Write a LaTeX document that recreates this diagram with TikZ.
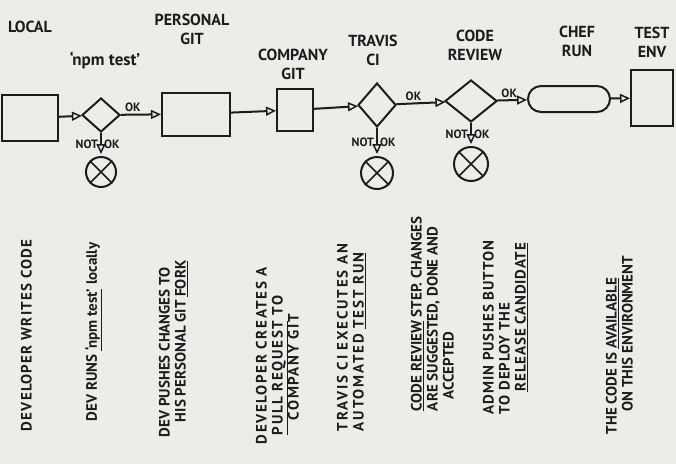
\documentclass[tikz,border=0pt]{standalone}
\usepackage{fontspec}
\setmainfont{PT Sans}
\usepackage{tikz}
\usetikzlibrary{arrows.meta,positioning,shapes.geometric,shapes.misc}
\definecolor{board}{RGB}{236,236,233}
\definecolor{marker}{RGB}{28,28,28}
\tikzstyle{box}=[draw, inner sep=0pt]
\tikzstyle{check}=[draw, diamond, inner sep=0pt]
\tikzstyle{run}=[draw, rounded rectangle, inner sep=0pt]
\tikzstyle{stop}=[draw, circle, inner sep=0pt, minimum size=30pt]
\tikzstyle{title}=[align=center, inner sep=0pt, font=\bfseries\fontsize{16}{19}\selectfont]
\tikzstyle{tag}=[inner sep=2pt, font=\bfseries\fontsize{12}{13}\selectfont]
\tikzstyle{note}=[rotate=90, anchor=north west, align=left, inner sep=0pt, font=\bfseries\fontsize{15}{16}\selectfont]
\tikzset{spread/.style={font=\bfseries\fontsize{15}{16}\selectfont\addfontfeature{LetterSpace=#1}}}

\begin{document}
\begin{tikzpicture}[x=1pt,y=-1pt,>={Triangle[open,length=10pt,width=9pt,line width=1.5pt]},color=marker,line width=2pt,auto]
  \fill[board] (0,0) rectangle (676,464);
  % stations
  \node [box, minimum width=56pt, minimum height=46pt] (local) at (30,118) {};
  \node [check, minimum width=38pt, minimum height=34pt] (npm) at (101,115) {};
  \node [box, minimum width=68pt, minimum height=43pt] (personal) at (196,114) {};
  \node [box, minimum width=36pt, minimum height=42pt] (company) at (295,110) {};
  \node [check, minimum width=38pt, minimum height=44pt] (travis) at (377,105) {};
  \node [check, minimum width=52pt, minimum height=42pt] (review) at (471,101) {};
  \node [run, minimum width=82pt, minimum height=26pt] (chef) at (569,99) {};
  \node [box, minimum width=42pt, minimum height=56pt] (testenv) at (652,98) {};
  \node [stop] (npmstop) at (101,172) {};
  \node [stop, minimum size=32pt] (travisstop) at (377,173) {};
  \node [stop, minimum size=34pt] (reviewstop) at (471,164) {};
  \draw[line width=1.6pt] (npmstop.north west) -- (npmstop.south east) (npmstop.north east) -- (npmstop.south west);
  \draw[line width=1.6pt] (travisstop.north west) -- (travisstop.south east) (travisstop.north east) -- (travisstop.south west);
  \draw[line width=1.6pt] (reviewstop.north west) -- (reviewstop.south east) (reviewstop.north east) -- (reviewstop.south west);
  % titles
  \node [title] (localtitle) at (30,27) {LOCAL};
  \node [title, font=\bfseries\fontsize{17}{19}\selectfont] (npmtitle) at (105,60) {`npm test'};
  \node [title] (personaltitle) at (192,29) {PERSONAL\\GIT};
  \node [title] (companytitle) at (293,64) {COMPANY\\GIT};
  \node [title] (travistitle) at (373,50) {TRAVIS\\CI};
  \node [title] (reviewtitle) at (475,45) {CODE\\REVIEW};
  \node [title] (cheftitle) at (577,41) {CHEF\\RUN};
  \node [title] (testenvtitle) at (652,42) {TEST\\ENV};
  % flow
  \path[->]
    (local) edge (npm)
    (npm) edge node[tag, pos=.3] {OK} (personal)
    (personal) edge (company)
    (company) edge (travis)
    (travis) edge node[tag, pos=.35] {OK} (review)
    (review) edge node[tag, pos=.4] {OK} (chef)
    (chef) edge (testenv)
    (npm) edge[shorten >=2pt] node[tag, swap] {NOT} node[tag] {OK} (npmstop)
    (travis) edge[shorten >=2pt] node[tag, swap] {NOT} node[tag] {OK} (travisstop)
    (review) edge[shorten >=2pt] node[tag, swap] {NOT} node[tag] {OK} (reviewstop);
  % notes
  \node [note, spread=8] (note1) at (20,432) {DEVELOPER WRITES CODE};
  \node [note] (note2) at (84,422) {DEV RUNS \underline{`npm test'} locally};
  \node [note] (note3) at (158,438) {DEV PUSHES CHANGES TO\\\hspace*{1em}HIS PERSONAL GIT \underline{FORK}};
  \node [note, spread=11] (note4) at (255,445) {DEVELOPER CREATES A\\\hspace*{.6em}\underline{PULL REQUEST} TO\\\hspace*{1.6em}COMPANY GIT};
  \node [note, spread=12] (note5) at (336,432) {TRAVIS CI EXECUTES AN\\AUTOMATED \underline{TEST RUN}};
  \node [note] (note6) at (410,412) {\underline{CODE REVIEW} STEP. CHANGES\\ARE SUGGESTED, DONE AND\\\hspace*{.8em}ACCEPTED};
  \node [note, spread=6] (note7) at (482,415) {ADMIN PUSHES BUTTON\\TO DEPLOY THE\\\hspace*{1.5em}\underline{RELEASE CANDIDATE}};
  \node [note] (note8) at (605,435) {THE CODE IS \underline{AVAILABLE}\\\hspace*{1.5em}ON THIS ENVIRONMENT};
\end{tikzpicture}
\end{document}
